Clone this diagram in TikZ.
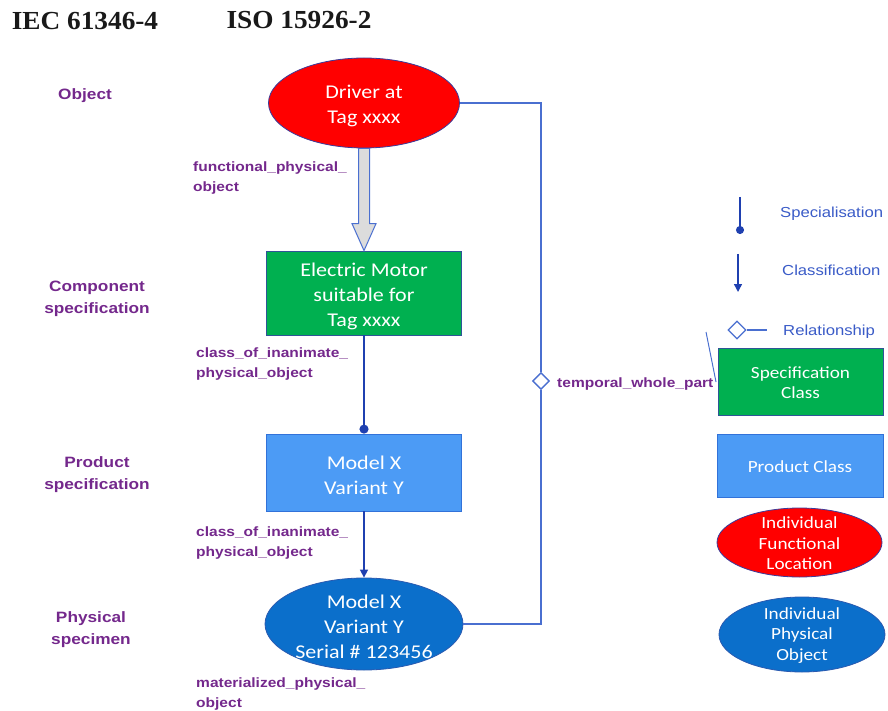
\documentclass[tikz,border=0pt]{standalone}
\usepackage{fontspec}
\setmainfont[FakeStretch=1.13]{Carlito}
\newfontfamily\lblfont[FakeStretch=1.15]{Liberation Sans}
\newfontfamily\ttlfont[FakeStretch=1.05]{Liberation Serif}
\usetikzlibrary{shapes.geometric,arrows.meta,calc}

\definecolor{purp}{HTML}{74288C}
\definecolor{keyblue}{HTML}{3A5BC7}
\definecolor{lineblue}{HTML}{4A6FD0}
\definecolor{specblue}{HTML}{1F40B0}
\definecolor{fred}{HTML}{FF0000}
\definecolor{redline}{HTML}{3B3B9B}
\definecolor{fgreen}{HTML}{00B050}
\definecolor{greenline}{HTML}{2F5597}
\definecolor{flblue}{HTML}{4C9BF5}
\definecolor{lblueline}{HTML}{3272D9}
\definecolor{fdblue}{HTML}{0B6FCB}
\definecolor{dblueline}{HTML}{2A5AB0}
\definecolor{hollowfill}{HTML}{DCDCDC}

\tikzset{
  bigtext/.style={text=white, align=center, yshift=-3pt, font=\fontsize{19.5}{25}\selectfont},
  smalltext/.style={text=white, align=center, yshift=-1pt, font=\fontsize{17}{20.5}\selectfont},
  locbox/.style={ellipse, fill=fred, draw=redline, line width=0.8pt, inner sep=-14pt},
  specbox/.style={rectangle, fill=fgreen, draw=greenline, line width=0.8pt, inner sep=0pt},
  prodbox/.style={rectangle, fill=flblue, draw=lblueline, line width=0.8pt, inner sep=0pt},
  physbox/.style={ellipse, fill=fdblue, draw=dblueline, line width=0.8pt, inner sep=-14pt},
  level/.style={text=purp, align=center, inner sep=0pt, yshift=-2.5pt, font=\lblfont\bfseries\fontsize{15}{22}\selectfont},
  rellabel/.style={text=purp, align=left, anchor=west, inner sep=0pt, yshift=-2.5pt, font=\lblfont\bfseries\fontsize{13.5}{20}\selectfont},
  keytext/.style={text=keyblue, anchor=west, inner sep=0pt, yshift=-2pt, font=\lblfont\fontsize{14.5}{17}\selectfont},
  heading/.style={text=black!90, inner sep=0pt, font=\ttlfont\bfseries\fontsize{26}{30}\selectfont},
  specline/.style={draw=specblue, line width=1.8pt, -{Circle[length=9pt]}},
  classline/.style={draw=specblue, line width=1.5pt, -{Triangle[length=8pt,width=8pt]}},
  tline/.style={draw=lineblue, line width=1.4pt},
  hollow/.style={draw=lineblue, fill=hollowfill, line width=1pt, line join=miter},
  reldiamond/.style={diamond, draw=lineblue, fill=white, line width=1.4pt, minimum size=17pt, inner sep=0pt}
}

\begin{document}
\begin{tikzpicture}[x=1pt, y=-1pt]
\useasboundingbox (0,0) rectangle (888,711);

% headings
\node[heading] (iec) at (85,21) {IEC 61346-4};
\node[heading] (iso) at (299,20) {ISO 15926-2};

% level names
\node[level] (lobj) at (85,93) {Object};
\node[level] (lcomp) at (97,296) {Component\\specification};
\node[level] (lprod) at (97,472) {Product\\specification};
\node[level] (lphys) at (91,627) {Physical\\specimen};

% main chain
\node[locbox, minimum width=191pt, minimum height=90pt] (fl) at (364,103) {};
\node[bigtext] (fltext) at (fl.center) {Driver at\\Tag xxxx};
\node[specbox, minimum width=195pt, minimum height=84pt] (cs) at (364,293) {};
\node[bigtext] (cstext) at (cs.center) {Electric Motor\\suitable for\\Tag xxxx};
\node[prodbox, minimum width=195pt, minimum height=77pt] (ps) at (364,472.5) {};
\node[bigtext] (pstext) at (ps.center) {Model X\\Variant Y};
\node[physbox, minimum width=198pt, minimum height=92pt] (po) at (364,624) {};
\node[bigtext] (potext) at (po.center) {Model X\\Variant Y\\Serial \# 123456};

% hollow arrow: functional physical object
\draw[hollow] ($(fl.south)+(-5.5,0)$) -- ($(cs.north)+(-5.5,-27)$)
  -- ($(cs.north)+(-12,-27)$) -- (cs.north) -- ($(cs.north)+(12,-27)$)
  -- ($(cs.north)+(5.5,-27)$) -- ($(fl.south)+(5.5,0)$) -- cycle;

% specialisation and classification
\draw[specline] (cs.south) -- (ps.north);
\draw[classline] (ps.south) -- (po.north);

% temporal whole part
\node[reldiamond] (tw) at (541,381) {};
\draw[tline] (fl.east) -| (tw.north);
\draw[tline] (tw.south) |- (po.east);

% relation names
\node[rellabel] (r1) at (193,176) {functional\_physical\_\\object};
\node[rellabel] (r2) at (196,361.5) {class\_of\_inanimate\_\\physical\_object};
\node[rellabel] (r3) at (196,540.5) {class\_of\_inanimate\_\\physical\_object};
\node[rellabel] (r4) at (196,691.5) {materialized\_physical\_\\object};
\node[rellabel] (r5) at (557,382) {temporal\_whole\_part};

% key: connector kinds
\coordinate (ks1) at (740,197);
\coordinate (ks2) at (740,234);
\draw[specline, line width=1.6pt, -{Circle[length=8pt]}] (ks1) -- (ks2);
\node[keytext] (kst) at (780,212) {Specialisation};

\coordinate (kc1) at (738,254);
\coordinate (kc2) at (738,292);
\draw[classline] (kc1) -- (kc2);
\node[keytext] (kct) at (782,268) {Classification};

\node[reldiamond, minimum size=18pt, line width=1.2pt] (kd) at (737,330) {};
\coordinate (kr2) at (767,330);
\draw[tline, line width=1.2pt] (kd.east) -- (kr2);
\node[keytext] (krt) at (783,330) {Relationship};

\coordinate (sl1) at (706,332);
\coordinate (sl2) at (716,382);
\draw[tline, line width=1pt] (sl1) -- (sl2);

% key: node kinds
\node[specbox, minimum width=165pt, minimum height=67pt] (kspec) at (800.5,381.5) {};
\node[smalltext] (kspect) at (kspec.center) {Specification\\Class};
\node[prodbox, minimum width=166pt, minimum height=63pt] (kprod) at (800,465.5) {};
\node[smalltext] (kprodt) at (kprod.center) {Product Class};
\node[locbox, minimum width=165pt, minimum height=69pt] (kloc) at (799.5,542.5) {};
\node[smalltext] (kloct) at (kloc.center) {Individual\\Functional\\Location};
\node[physbox, minimum width=166pt, minimum height=75pt] (kphys) at (802,634.5) {};
\node[smalltext] (kphyst) at (kphys.center) {Individual\\Physical\\Object};
\end{tikzpicture}
\end{document}
